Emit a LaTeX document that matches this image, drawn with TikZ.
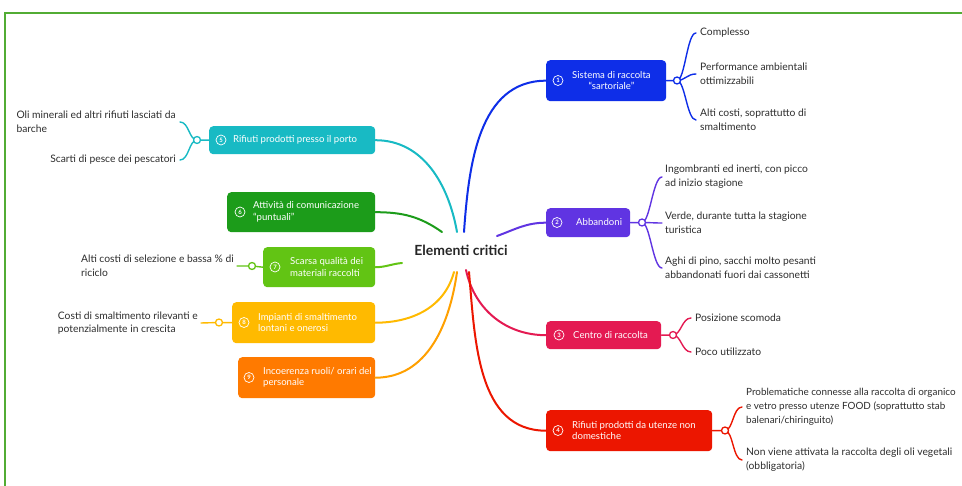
\documentclass[tikz,border=0pt]{standalone}
\usepackage{fontspec}
\setmainfont{Lato}
\definecolor{cblue}{RGB}{14,46,232}
\definecolor{cpurple}{RGB}{96,52,226}
\definecolor{ccrim}{RGB}{228,26,82}
\definecolor{cred}{RGB}{236,22,0}
\definecolor{cteal}{RGB}{24,186,196}
\definecolor{cgreen}{RGB}{28,156,26}
\definecolor{clgreen}{RGB}{98,196,20}
\definecolor{cyellow}{RGB}{255,186,0}
\definecolor{corange}{RGB}{255,122,0}
\definecolor{cframe}{RGB}{82,172,52}
\definecolor{ctext}{RGB}{45,45,45}
\begin{document}
\begin{tikzpicture}[x=1pt,y=-1pt,
  box/.style={rounded corners=4pt, draw=none, anchor=north west, inner sep=0pt},
  bt/.style={text=white, font=\fontsize{9.6}{11.5}\selectfont, align=left, inner sep=0pt, anchor=west},
  num/.style={circle, draw=white, line width=0.7pt, text=white, font=\fontsize{6}{6}\selectfont\bfseries, inner sep=0pt, minimum size=10pt},
  ch/.style={text=ctext, font=\fontsize{10.3}{13.8}\selectfont, align=left, inner sep=0pt},
  knob/.style={circle, draw=#1, fill=white, line width=1.3pt, minimum size=7pt, inner sep=0pt},
  br/.style={draw=#1, line width=1.4pt, line cap=round},
  ln/.style={draw=#1, line width=2pt, line cap=round}]
\clip (0,0) rectangle (962,486);
\useasboundingbox (0,0) rectangle (962,486);
\fill[white] (0,0) rectangle (962,486);
% frame
\draw[cframe, line width=2pt] (5,490) -- (5,13) -- (970,13);

% centre
\node[font=\fontsize{14}{16}\selectfont\bfseries, text=black!85, inner sep=1pt] (c) at (461,250) {Elementi critici};
\coordinate (oblue) at (464,232);
\coordinate (oteal) at (457,232);
\coordinate (ogreen) at (442,232);
\coordinate (olg) at (402,263);
\coordinate (oyel) at (454,272);
\coordinate (oora) at (457,272);
\coordinate (opur) at (497,236);
\coordinate (ocrim) at (466,270);
\coordinate (ored) at (469,272);

% boxes right
\node[box, fill=cblue, minimum width=120pt, minimum height=41pt] (b1) at (546,60) {};
\node[box, fill=cpurple, minimum width=84pt, minimum height=29pt] (b2) at (546,208) {};
\node[box, fill=ccrim, minimum width=115pt, minimum height=28pt] (b3) at (546,321) {};
\node[box, fill=cred, minimum width=166pt, minimum height=41pt] (b4) at (546,410) {};
% boxes left
\node[box, fill=cteal, minimum width=166pt, minimum height=28pt] (b5) at (209,126) {};
\node[box, fill=cgreen, minimum width=148pt, minimum height=40pt] (b6) at (227,192) {};
\node[box, fill=clgreen, minimum width=112pt, minimum height=40pt] (b7) at (263,247) {};
\node[box, fill=cyellow, minimum width=143pt, minimum height=41pt] (b8) at (232,302) {};
\node[box, fill=corange, minimum width=137pt, minimum height=41pt] (b9) at (238,357) {};

% numbers and texts
\node[num] (n1) at (558,80.5) {1};
\node[bt, align=center] (t1) at (572,80.5) {Sistema di raccolta\\“sartoriale”};
\node[num] (n2) at (557,222.5) {2};
\node[bt] (t2) at (576,222.5) {Abbandoni};
\node[num] (n3) at (559,335) {3};
\node[bt] (t3) at (573,335) {Centro di raccolta};
\node[num] (n4) at (558,430.5) {4};
\node[bt] (t4) at (572,430.5) {Rifiuti prodotti da utenze non\\domestiche};
\node[num] (n5) at (221,140) {5};
\node[bt] (t5) at (233,140) {Rifiuti prodotti presso il porto};
\node[num] (n6) at (240,212) {6};
\node[bt] (t6) at (253,212) {Attività di comunicazione\\“puntuali”};
\node[num] (n7) at (275,267) {7};
\node[bt] (t7) at (290,267) {Scarsa qualità dei\\materiali raccolti};
\node[num] (n8) at (244,322.5) {8};
\node[bt] (t8) at (258,322.5) {Impianti di smaltimento\\lontani e onerosi};
\node[num] (n9) at (249,377.5) {9};
\node[bt] (t9) at (263,377.5) {Incoerenza ruoli/ orari del\\personale};

% centre connectors
\draw[ln=cblue] (oblue) to[out=86,in=180] (b1.west);
\draw[ln=cteal] (oteal) to[out=100,in=0] (b5.east);
\draw[ln=cgreen] (ogreen) to[out=145,in=0] (b6.east);
\draw[ln=clgreen] (olg) to[out=185,in=0] (b7.east);
\draw[ln=cyellow] (oyel) to[out=255,in=0] (b8.east);
\draw[ln=cyellow!60!corange] (oora) to[out=262,in=0] (b9.east);
\draw[ln=cpurple] (opur) to[out=20,in=180] (b2.west);
\draw[ln=ccrim] (ocrim) to[out=-78,in=180] (b3.west);
\draw[ln=cred] (ored) to[out=-85,in=180] (b4.west);

% children right
\node[ch, anchor=west] (c11) at (700,33) {Complesso};
\node[ch, anchor=west] (c12) at (700,74) {Performance ambientali\\ottimizzabili};
\node[ch, anchor=west] (c13) at (700,120) {Alti costi, soprattutto di\\smaltimento};
\node[ch, anchor=west] (c21) at (665,177) {Ingombranti ed inerti, con picco\\ad inizio stagione};
\node[ch, anchor=west] (c22) at (665,223) {Verde, durante tutta la stagione\\turistica};
\node[ch, anchor=west] (c23) at (665,268) {Aghi di pino, sacchi molto pesanti\\abbandonati fuori dai cassonetti};
\node[ch, anchor=west] (c31) at (695,318) {Posizione scomoda};
\node[ch, anchor=west] (c32) at (695,352) {Poco utilizzato};
\node[ch, anchor=west, font=\fontsize{9.9}{13.8}\selectfont] (c41) at (746,407) {Problematiche connesse alla raccolta di organico\\e vetro presso utenze FOOD (soprattutto stab\\balenari/chiringuito)};
\node[ch, anchor=west] (c42) at (746,460) {Non viene attivata la raccolta degli oli vegetali\\(obbligatoria)};
% children left
\node[ch, anchor=east] (c51) at (176,122) {Oli minerali ed altri rifiuti lasciati da\\barche};
\node[ch, anchor=east] (c52) at (176,160) {Scarti di pesce dei pescatori};
\node[ch, anchor=east] (c71) at (234,266) {Alti costi di selezione e bassa \% di\\riciclo};
\node[ch, anchor=east] (c81) at (198,323) {Costi di smaltimento rilevanti e\\potenzialmente in crescita};

% knob coordinates
\coordinate (k1) at (677,80.5);
\coordinate (k2) at (642,222.5);
\coordinate (k3) at (673,335);
\coordinate (k4) at (725,430.5);
\coordinate (k5) at (197,140);
\coordinate (k7) at (252,266);
\coordinate (k8) at (219,322.5);

% braces
\draw[br=cblue] (b1.east) -- (k1);
\foreach \c in {c11,c12,c13}{\draw[br=cblue] (k1) .. controls +(8,0) and +(-9,0) .. ([xshift=-4pt]\c.west);}
\draw[br=cpurple] (b2.east) -- (k2);
\foreach \c in {c21,c22,c23}{\draw[br=cpurple] (k2) .. controls +(8,0) and +(-9,0) .. ([xshift=-3pt]\c.west);}
\draw[br=ccrim] (b3.east) -- (k3);
\foreach \c in {c31,c32}{\draw[br=ccrim] (k3) .. controls +(8,0) and +(-9,0) .. ([xshift=-4pt]\c.west);}
\draw[br=cred] (b4.east) -- (k4);
\foreach \c in {c41,c42}{\draw[br=cred] (k4) .. controls +(8,0) and +(-9,0) .. ([xshift=-4pt]\c.west);}
\draw[br=cteal] (b5.west) -- (k5);
\foreach \c in {c51,c52}{\draw[br=cteal] (k5) .. controls +(-8,0) and +(9,0) .. ([xshift=4pt]\c.east);}
\draw[br=clgreen] (b7.west) -- (k7) -- ([xshift=3pt]c71.east);
\draw[br=cyellow] (b8.west) -- (k8) -- ([xshift=3pt]c81.east);

% knobs
\node[knob=cblue] (kn1) at (k1) {};
\node[knob=cpurple] (kn2) at (k2) {};
\node[knob=ccrim] (kn3) at (k3) {};
\node[knob=cred] (kn4) at (k4) {};
\node[knob=cteal] (kn5) at (k5) {};
\node[knob=clgreen] (kn7) at (k7) {};
\node[knob=cyellow] (kn8) at (k8) {};
\end{tikzpicture}
\end{document}
